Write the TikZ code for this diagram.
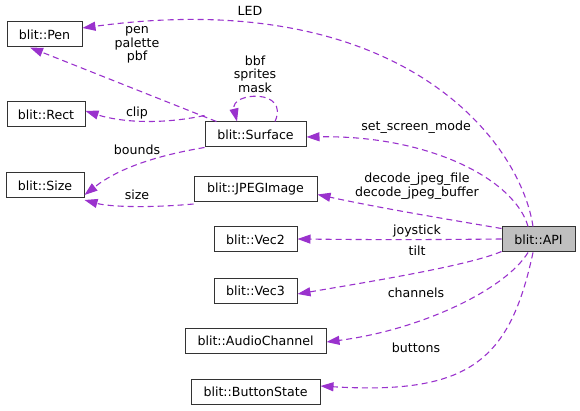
\documentclass[tikz,border=0pt]{standalone}
\usepackage{fontspec}
\setmainfont{DejaVu Sans}
\usetikzlibrary{arrows.meta}
\definecolor{edgec}{HTML}{9A32CD}
\definecolor{apifill}{HTML}{BFBFBF}
\tikzset{
  cls/.style={draw=black!80, line width=1pt, fill=white, minimum height=25pt, inner sep=0pt, font=\fontsize{12.6}{14}\selectfont},
  rel/.style={draw=edgec, line width=1.1pt, dash pattern=on 6pt off 4pt, -{Triangle[length=13pt,width=9pt]}},
  lbl/.style={font=\fontsize{12.6}{13.6}\selectfont, align=center, inner sep=0pt}
}
\begin{document}
\begin{tikzpicture}[x=1pt,y=-1pt]
\useasboundingbox (0,0) rectangle (580,411);
% nodes
\node[cls, minimum width=75pt] (pen) at (44.5,34.5) {blit::Pen};
\node[cls, minimum width=78pt] (rect) at (46,114.5) {blit::Rect};
\node[cls, minimum width=101pt] (surf) at (255.5,134.5) {blit::Surface};
\node[cls, minimum width=78pt] (size) at (45,185.5) {blit::Size};
\node[cls, minimum width=123pt] (jpeg) at (255.5,189.5) {blit::JPEGImage};
\node[cls, minimum width=83pt] (vec2) at (255.5,239.5) {blit::Vec2};
\node[cls, minimum width=73pt, fill=apifill] (api) at (538.5,239.5) {blit::API};
\node[cls, minimum width=83pt] (vec3) at (255.5,290.5) {blit::Vec3};
\node[cls, minimum width=141pt] (audio) at (255.5,341) {blit::AudioChannel};
\node[cls, minimum width=129pt] (btn) at (255.5,391.5) {blit::ButtonState};
% edges from API
\draw[rel] ([xshift=-5.5pt]api.north) .. controls (520,140) and (400,-15) .. ([yshift=-6.5pt]pen.north east);
\draw[rel] ([xshift=-10.5pt]api.north) .. controls (515,180) and (430,135) .. ([yshift=-2.5pt]surf.east);
\draw[rel] ([yshift=-2pt]api.north west) .. controls (440,218) and (380,208) .. ([yshift=-5pt]jpeg.east);
\draw[rel] ([yshift=0.5pt]api.west) .. controls (420,239.8) and (380,239.8) .. ([yshift=0.5pt]vec2.east);
\draw[rel] ([yshift=1pt]api.south west) .. controls (470,265) and (380,280) .. ([yshift=-3.5pt]vec3.east);
\draw[rel] ([xshift=-10.5pt]api.south) .. controls (505,290) and (420,330) .. ([yshift=-1pt]audio.east);
\draw[rel] ([xshift=-5.5pt]api.south) .. controls (510,360) and (470,395) .. ([yshift=5.5pt]btn.east);
% edges from Surface
\draw[rel] ([xshift=12pt]surf.north west) -- ([xshift=23.5pt]pen.south west);
\draw[rel] ([yshift=6pt]surf.north west) .. controls (160,125) and (120,122) .. ([yshift=3.5pt]rect.east);
\draw[rel] (surf.south west) .. controls (160,155) and (120,167) .. ([yshift=-9.5pt]size.east);
\draw[rel] ([yshift=-1.5pt]jpeg.south west) .. controls (150,208) and (110,207) .. ([yshift=-1.5pt]size.south east);
\draw[rel] ([xshift=19.5pt]surf.north) .. controls (290,88) and (230,92) .. ([xshift=-18.5pt]surf.north);
% labels
\node[lbl] (lled) at (250,11) {LED};
\node[lbl] (lpen) at (137,45) {pen\\palette\\pbf};
\node[lbl] (lbbf) at (255,74) {bbf\\sprites\\mask};
\node[lbl] (lclip) at (137,113) {clip};
\node[lbl] (lssm) at (416,127) {set\_screen\_mode};
\node[lbl] (lbounds) at (137,150) {bounds};
\node[lbl] (lsize) at (137,195) {size};
\node[lbl] (ljpeg) at (417,186) {decode\_jpeg\_file\\decode\_jpeg\_buffer};
\node[lbl] (ljoy) at (417,231) {joystick};
\node[lbl] (ltilt) at (417,251) {tilt};
\node[lbl] (lchan) at (416,293) {channels};
\node[lbl] (lbtn) at (416,348) {buttons};
\end{tikzpicture}
\end{document}
